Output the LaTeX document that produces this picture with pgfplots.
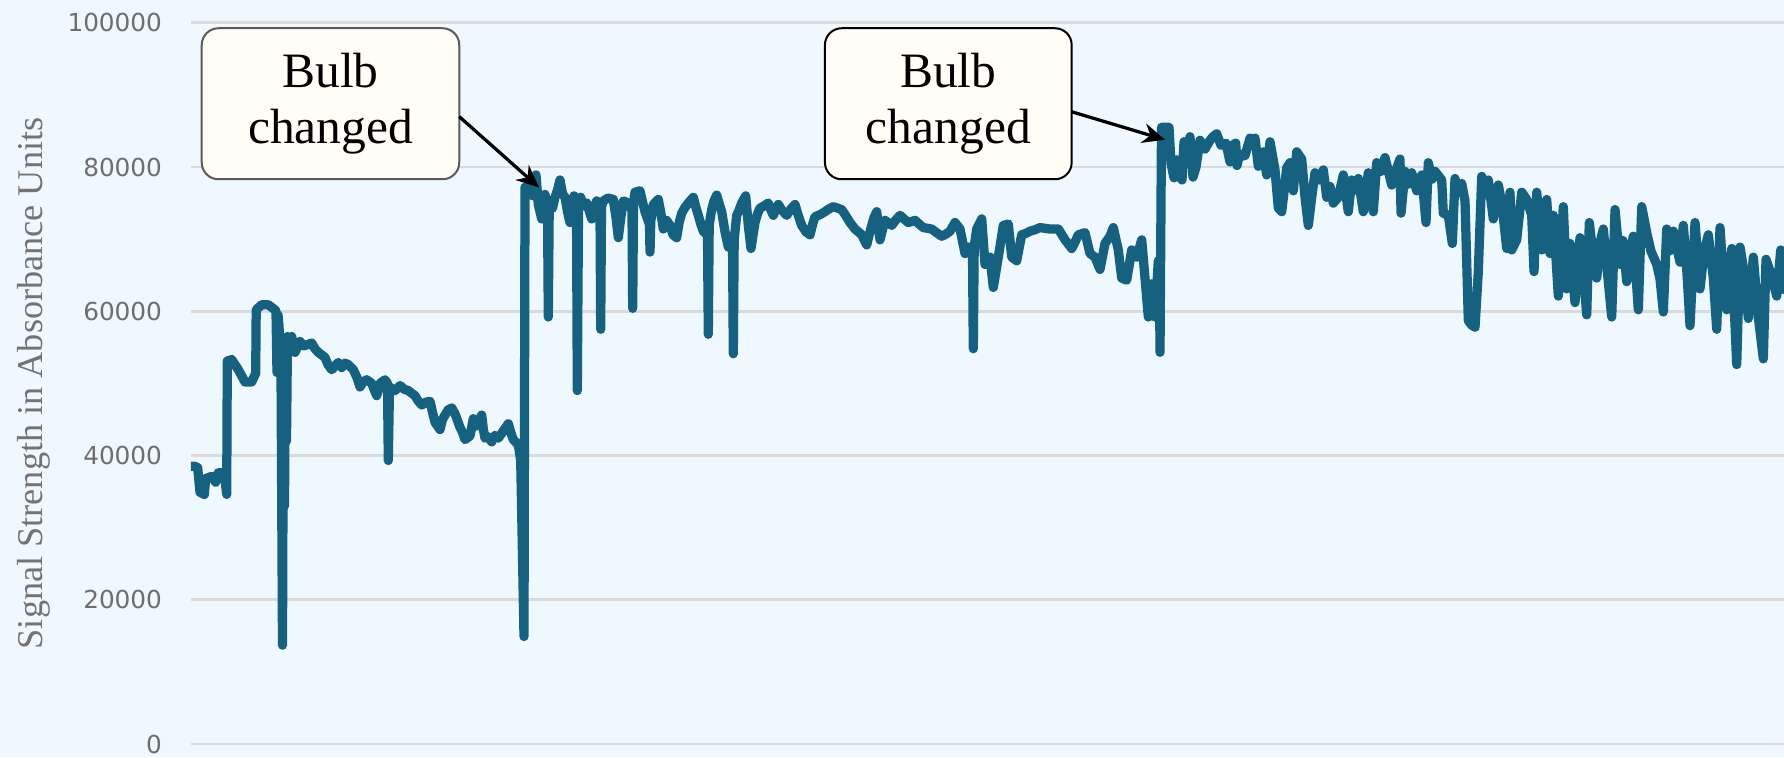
\documentclass[border=0pt]{standalone}
\usepackage{pgfplots}
\pgfplotsset{compat=1.18}
\usepackage{pgfplotstable}
\usepackage{fontspec}
\setmainfont{Liberation Serif}
\newfontfamily\tickfont{DejaVu Sans}
\usetikzlibrary{arrows.meta}
\definecolor{bgcol}{RGB}{240,248,255}
\definecolor{linecol}{RGB}{22,96,128}
\definecolor{gridcol}{RGB}{218,218,218}
\definecolor{tickcol}{RGB}{110,110,110}
\definecolor{labcol}{RGB}{115,115,115}
\definecolor{boxfill}{RGB}{255,253,246}
\definecolor{boxdraw}{RGB}{90,90,90}
\pgfplotstableread{
x y
0 38500
4 38500
6.7 38300
9 34900
13.3 34600
14.7 36800
20.7 37100
24.7 36300
27.3 37600
33.3 37600
35.7 34600
36.3 53100
40.7 53300
47.3 51900
54 50200
60.7 50200
64.7 51400
65.2 60200
70.7 60900
77.3 60900
84 60200
85 60000
86 51500
87 59500
88 58000
90 52000
91.5 13700
92.5 55000
93.5 33000
94.5 56000
95.5 42000
96.5 56500
99 54300
100.7 56500
104 54300
109 55800
113 55200
117.3 55400
120.7 55600
124 54800
127.3 54300
134 53600
137 52600
140.7 51900
144 52400
147.3 52900
150.7 52200
154 52800
157.3 52600
162.3 51900
166 50800
169 49500
172 50200
175.7 50500
180.7 50000
183 49200
185.7 48300
189 50000
194 50500
196.5 50000
197.3 39300
198.5 49500
204 49000
209 49700
213 49200
217.3 49000
221 48600
224 48300
227 47600
230.7 47000
235 47400
239 47500
241.5 46000
244 44600
249 43600
251.5 45000
254 45600
257 46300
260.7 46600
264 45800
269 43900
271.5 43200
274 42200
279 42700
282.3 45100
285.7 44100
290.7 45600
292.5 43500
294 42400
297 42600
300.7 41900
304 42800
307.3 42400
312.3 43400
317.3 44400
320 43100
322.3 42200
327.3 41500
329.7 39300
333 14900
334 77200
336.5 76200
339 77500
342 76000
345 78900
347.3 74800
350.7 72800
354 76200
356.5 74500
357.3 59200
358.2 74000
359 75300
361.5 74300
364 75800
366.5 76800
369 78200
371.5 76300
374 75800
376.5 73800
379 72300
381 74200
383 76000
385.5 74500
386.3 49000
387.5 74000
389.7 75800
392.5 74600
395.7 75000
398 74000
400.7 72800
403 74200
405.7 75300
409 74000
409.7 57500
410.5 74500
412.3 75300
417 75700
422.3 75500
425 73000
427.3 70200
430 73200
432.3 75300
437.3 75000
441 74000
441.7 60400
442.5 75000
444 76500
449 76700
451.5 75200
454 73800
458.5 72000
459 68200
459.8 72500
462.3 74800
467.3 75500
470 73500
472.3 71400
475.5 72600
479 71900
482 70600
485.7 70200
488 72200
490.7 73600
494 74400
497.3 75000
502.3 75800
504.5 74600
507.3 73300
510 72000
512.3 71100
516.5 70500
517.3 56800
518.2 72000
520.7 74100
523 75300
525.7 76100
528 75000
530.7 73800
534 71000
537.3 68900
541.5 70000
542.3 54100
543.2 70000
545.7 73300
548 74000
550.7 75000
554.7 76000
557.3 71900
560 68700
562 70500
564 72300
566.5 73500
569 74300
573 74600
577.3 75000
580 74000
582.3 73300
585 74200
587.3 74800
591 74000
595.7 73300
600 74200
604 74800
607 73400
610.7 71900
615 71000
619 70600
621.5 72000
624 73100
629 73400
634 73800
638 74200
642.3 74500
646.5 74300
650.7 74100
655 73200
659 72300
664 71400
667.5 71000
670.7 70600
675.7 69200
678 70500
680.7 71900
683 73000
685.7 73800
689 69900
691.5 71300
694 72600
697 72300
700.7 71900
704.5 72600
709 73300
713 72800
717.3 72300
724 72600
728 72100
732.3 71600
736.5 71500
740.7 71400
745.5 70900
750.7 70400
755 70700
759 71100
764 72300
769 71400
774 68000
777.3 68900
781.5 68000
782.3 54800
783.2 69000
785.7 71400
790.7 72800
794 66500
799 67500
802.3 63300
807.3 67500
812.3 71900
817.3 72100
820.7 67500
825.7 67000
830.7 70600
835 70800
839 71100
844 71300
849 71600
854 71500
859 71400
863 71400
867.3 71400
870.5 70700
874 69900
877.5 69300
880.7 68700
884 69600
887.3 70600
894 70900
899 68000
904 67500
909 65800
914 69400
919 70400
922.3 71600
927.3 68500
930.7 64600
935.7 64300
940.7 68500
945.7 67500
950.7 69900
954 64600
957.3 59200
960.7 63800
964 59200
967.3 67000
968.5 65000
969 54300
970.5 85500
978 85500
980 80500
983 78500
985.5 81000
988 79000
991 78200
993 83500
996 82000
999 84200
1002 78600
1005 80000
1009 83700
1014 82500
1019 83700
1022 84200
1025.7 84600
1030 83000
1035 83300
1039 80700
1041.5 83000
1044.7 83300
1046 80200
1048.5 81800
1051 81500
1054 81600
1059 84000
1061.5 83300
1064 84000
1067.3 80100
1072.3 82100
1075.7 78900
1079 83500
1084 79600
1087.3 74300
1090.7 73800
1093 76500
1095.7 79900
1099 80600
1102.3 76700
1105.7 82100
1110.7 81100
1114 75800
1117.3 71900
1120.7 75800
1124 79200
1128 78200
1132.3 79600
1135.7 75800
1139 77300
1142.3 75000
1147.3 75800
1152.3 78900
1157.3 73800
1160.7 78200
1164 76800
1167.3 78400
1172.3 73800
1177.3 79200
1182.3 73800
1185.7 80600
1190 79400
1194 81300
1200.7 77500
1205 79600
1209 81100
1210 73600
1214 79400
1217 77600
1220.7 79200
1225.7 76700
1230.7 78900
1235 72300
1237.3 80600
1241 78300
1244 79400
1250.7 78200
1252.3 73600
1257.3 73300
1261.3 69400
1264 78400
1267 76400
1270.7 77700
1274 75300
1277.3 58700
1280.5 58100
1284 57800
1287.3 65500
1290.7 78700
1294 77000
1297.3 78200
1302.3 72800
1307.3 77500
1311 74800
1315.7 68700
1319 76500
1320.7 68500
1325.7 69900
1330.7 76500
1335.7 75500
1340.7 73300
1343 65500
1345.7 76500
1350.7 68500
1355.7 75500
1359 68000
1362.3 73300
1367.3 62100
1372.3 74500
1375.7 63100
1379 69400
1384 61200
1389 70200
1392 66000
1395.7 59500
1398.3 72300
1402 67800
1405.7 64600
1409 69500
1412.3 71400
1416 66000
1420.7 59200
1424 74100
1429 66500
1432 69800
1435.7 64100
1439 67800
1442.3 70400
1447.3 60200
1450.7 74500
1455.7 70900
1460 68300
1465.7 66500
1469 64500
1472.3 59900
1475.7 71400
1479 68400
1482.3 71100
1489 66800
1492.3 71900
1496 65200
1499 58000
1504 72300
1509 63100
1513 68200
1517.3 70600
1522.3 64600
1525.7 57500
1529 71600
1532 65400
1535.7 60200
1540.7 68700
1545.7 52600
1549 68900
1554 64600
1557.3 59000
1562.3 67500
1567.3 59200
1572.3 53400
1575 67200
1580.7 64800
1585.7 62100
1589.7 68500
1593 63000
}\signaldata
\begin{document}
\begin{tikzpicture}
\fill[bgcol] (-76.4pt,-5.2pt) rectangle (637.2pt,297.6pt);
\begin{axis}[
  at={(0,0)}, anchor=south west,
  scale only axis,
  width=637.2pt, height=288.5pt,
  xmin=0, xmax=1593,
  ymin=0, ymax=100000,
  xtick=\empty,
  ytick={0,20000,40000,60000,80000,100000},
  yticklabels={0,20000,40000,60000,80000,100000},
  ymajorgrids,
  grid style={gridcol, line width=1.1pt},
  axis line style={draw=none},
  major tick length=0pt,
  scaled y ticks=false,
  yticklabel style={font=\tickfont\fontsize{9.9}{11}\selectfont, text=tickcol, inner sep=0pt, xshift=-11.4pt},
  ylabel={Signal Strength in Absorbance Units},
  every axis y label/.style={at={(axis description cs:-0.0984,0.5)}, rotate=90, anchor=center, font=\fontsize{14.5}{17}\selectfont, text=labcol},
]
\addplot[linecol, line width=3.7pt, line join=round, line cap=round] table[x=x,y=y] {\signaldata};
\node[draw=boxdraw, line width=0.8pt, fill=boxfill, rounded corners=6.7pt, minimum width=103pt, minimum height=60.4pt, align=center, inner sep=0pt, font=\fontsize{19.8}{22.7}\selectfont] at (axis cs:139.5,88770) {Bulb\\changed};
\node[draw=black, line width=0.8pt, fill=boxfill, rounded corners=6.7pt, minimum width=98.7pt, minimum height=60.4pt, align=center, inner sep=0pt, font=\fontsize{19.8}{22.7}\selectfont] at (axis cs:757.3,88770) {Bulb\\changed};
\draw[line width=1.3pt, -{Stealth[length=9pt,width=8pt]}] (axis cs:268.3,86980) -- (axis cs:348,77163);
\draw[line width=1.3pt, -{Stealth[length=9pt,width=8pt]}] (axis cs:880.7,87660) -- (axis cs:974,83777);
\end{axis}
\pgfresetboundingbox
\path (-76.4pt,-5.2pt) rectangle (637.2pt,297.6pt);
\end{tikzpicture}
\end{document}
